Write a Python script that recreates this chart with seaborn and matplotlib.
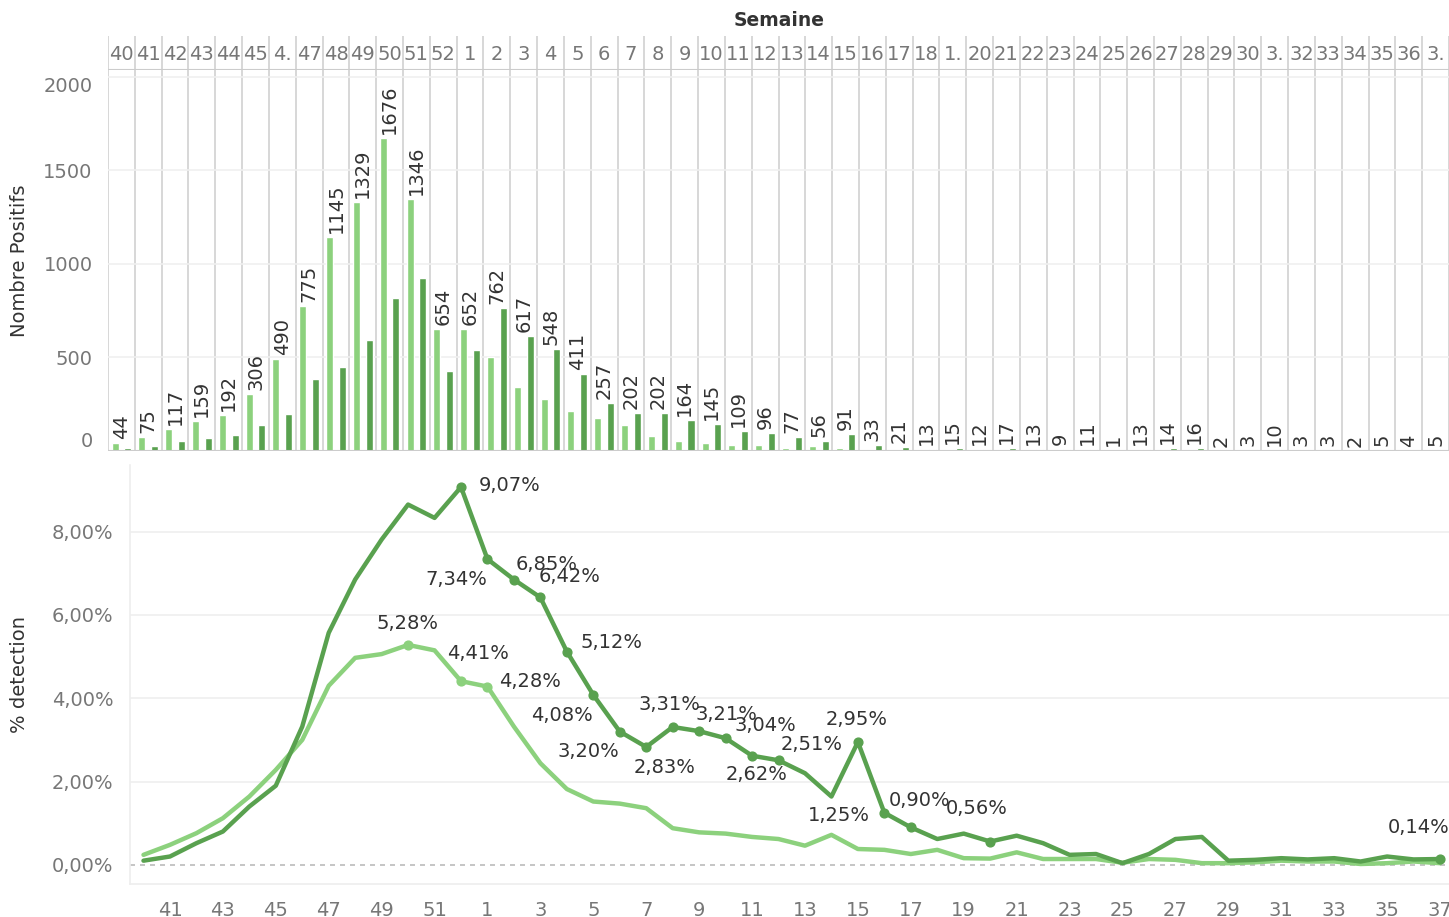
import matplotlib
matplotlib.use("Agg")
import matplotlib.pyplot as plt
import seaborn as sns
import pandas as pd
import numpy as np

sns.set_theme(style="white")
plt.rcParams["font.family"] = ["DejaVu Sans"]

LIGHT = "#8CD17D"
DARK = "#59A14F"
GREY = "#777777"
TXT = "#333333"

weeks = [40, 41, 42, 43, 44, 45, 46, 47, 48, 49, 50, 51, 52] + list(range(1, 38))
week_headers = ["40", "41", "42", "43", "44", "45", "4.", "47", "48", "49", "50", "51", "52",
                "1", "2", "3", "4", "5", "6", "7", "8", "9", "10", "11", "12", "13", "14",
                "15", "16", "17", "18", "1.", "20", "21", "22", "23", "24", "25", "26", "27",
                "28", "29", "30", "3.", "32", "33", "34", "35", "36", "3."]

# nombre de positifs (barres claires / foncees)
pos_light = [44, 75, 117, 159, 192, 306, 490, 775, 1145, 1329, 1676, 1346, 654,
             652, 503, 342, 278, 214, 178, 139, 82, 55, 44, 34, 34, 18, 28, 18,
             4, 3, 3, 1, 3, 3, 3, 3, 3, 3, 3, 3, 1, 2, 3, 3, 3, 3, 1, 1, 2, 1]
pos_dark = [18, 28, 55, 71, 86, 139, 198, 385, 449, 594, 818, 925, 428,
            540, 762, 617, 548, 411, 257, 202, 202, 164, 145, 109, 96, 77, 56, 91,
            33, 21, 13, 15, 12, 17, 13, 9, 11, 1, 13, 14, 16, 1, 1, 1, 1, 1, 1, 5, 1, 5]
bar_labels = ["44", "75", "117", "159", "192", "306", "490", "775", "1145", "1329", "1676", "1346", "654",
              "652", "762", "617", "548", "411", "257", "202", "202", "164", "145", "109", "96", "77",
              "56", "91", "33", "21", "13", "15", "12", "17", "13", "9", "11", "1", "13", "14", "16",
              "2", "3", "10", "3", "3", "2", "5", "4", "5"]

# % detection
pct_light = [0.24, 0.48, 0.76, 1.12, 1.64, 2.28, 3.00, 4.30, 4.97, 5.06, 5.28, 5.15, 4.41,
             4.28, 3.32, 2.44, 1.82, 1.52, 1.47, 1.36, 0.88, 0.78, 0.75, 0.67, 0.62, 0.46,
             0.72, 0.38, 0.36, 0.26, 0.36, 0.16, 0.15, 0.30, 0.14, 0.14, 0.14, 0.05, 0.14,
             0.12, 0.04, 0.04, 0.06, 0.10, 0.08, 0.08, 0.02, 0.04, 0.08, 0.04]
pct_dark = [0.10, 0.20, 0.52, 0.80, 1.40, 1.90, 3.32, 5.57, 6.85, 7.81, 8.65, 8.33, 9.07,
            7.34, 6.85, 6.42, 5.12, 4.08, 3.20, 2.83, 3.31, 3.21, 3.04, 2.62, 2.51, 2.20,
            1.64, 2.95, 1.25, 0.90, 0.62, 0.75, 0.56, 0.70, 0.52, 0.24, 0.26, 0.04, 0.26,
            0.62, 0.67, 0.10, 0.12, 0.16, 0.13, 0.16, 0.08, 0.20, 0.13, 0.14]

# points etiquetes : semaine + decalage en pixels du texte
dark_marked = [52, 1, 2, 3, 4, 5, 6, 7, 8, 9, 10, 11, 12, 15, 16, 17, 20, 37]
dark_offsets = [(49, 2), (-31, -20), (33, 15), (29, 21), (45, 9), (-31, -21), (-31, -20),
                (18, -21), (-3, 22), (27, 17), (40, 13), (5, -19), (33, 16), (-1, 22),
                (-45, -3), (9, 27), (-14, 33), (-21, 32)]
light_marked = [50, 52, 1]
light_offsets = [(-1, 21), (17, 28), (43, 5)]

idx = list(range(len(weeks)))
bars = pd.DataFrame({
    "idx": idx * 2,
    "serie": ["a"] * len(weeks) + ["b"] * len(weeks),
    "positifs": pos_light + pos_dark,
})
lines = pd.DataFrame({
    "idx": idx * 2,
    "serie": ["a"] * len(weeks) + ["b"] * len(weeks),
    "pct": pct_light + pct_dark,
})
pal = {"a": LIGHT, "b": DARK}

W, H = 1449, 917
fig = plt.figure(figsize=(W / 100, H / 100), dpi=100)


def box(x0, y0, x1, y1):
    return [x0 / W, 1 - y1 / H, (x1 - x0) / W, (y1 - y0) / H]


ax_h = fig.add_axes(box(108, 36, 1449, 70))
ax1 = fig.add_axes(box(108, 70, 1449, 451))
ax2 = fig.add_axes(box(130, 465, 1449, 884))

# ---- en-tete des semaines
ax_h.set_xlim(-0.5, len(weeks) - 0.5)
ax_h.set_ylim(0, 1)
ax_h.axis("off")
for i, lab in enumerate(week_headers):
    ax_h.text(i, 0.45, lab, ha="center", va="center", fontsize=14, color=GREY)
for b in np.arange(-0.5, len(weeks), 1.0):
    ax_h.axvline(b, color="#d4d4d4", lw=1.3)
ax_h.axhline(0, color="#cccccc", lw=1.5)
fig.text(779 / W, 1 - 20 / H, "Semaine", ha="center", va="center", fontsize=13.5,
         color=TXT, fontweight="semibold")

# ---- barres
sns.barplot(data=bars, x="idx", y="positifs", hue="serie", palette=pal, ax=ax1,
            width=0.95, gap=0.45, legend=False, saturation=1)
ax1.set_xlim(-0.5, len(weeks) - 0.5)
ax1.set_ylim(0, 2037)
for b in np.arange(-0.5, len(weeks), 1.0):
    ax1.axvline(b, color="#d4d4d4", lw=1.3, zorder=0)
for v in [500, 1000, 1500, 2000]:
    ax1.axhline(v, color="#f0f0f0", lw=1.2, zorder=0)
ax1.axhline(0, color="#cccccc", lw=1.5)
for i, lab in enumerate(bar_labels):
    top = max(pos_light[i], pos_dark[i])
    ax1.annotate(lab, (i, top), xytext=(0, 4), textcoords="offset pixels",
                 rotation=90, ha="center", va="bottom", fontsize=14, color=TXT)
ax1.set_xticks([])
ax1.set_xlabel("")
ax1.set_yticks([0, 500, 1000, 1500, 2000])
ax1.set_yticklabels(["0", "500", "1000", "1500", "2000"])
ax1.get_yticklabels()[0].set_va("bottom")
ax1.get_yticklabels()[-1].set_va("top")
ax1.tick_params(axis="y", length=0, pad=11, labelsize=14, labelcolor=GREY)
ax1.set_ylabel("Nombre Positifs", fontsize=14, color=TXT, va="center")
sns.despine(ax=ax1, left=True, bottom=True, top=True, right=True)

# ---- courbes
sns.lineplot(data=lines, x="idx", y="pct", hue="serie", palette=pal, ax=ax2,
             linewidth=3.2, legend=False)
ax2.set_xlim(-0.51, 49.34)
ax2.set_ylim(-0.46, 9.6)
ax2.axhline(0, color="#bbbbbb", lw=1.2, ls=(0, (3, 3)), zorder=0)
for v in [2, 4, 6, 8]:
    ax2.axhline(v, color="#f0f0f0", lw=1.3, zorder=0)

for marked, offs, vals, col in [(dark_marked, dark_offsets, pct_dark, DARK),
                                (light_marked, light_offsets, pct_light, LIGHT)]:
    xs = [weeks.index(w) for w in marked]
    ys = [vals[x] for x in xs]
    ax2.scatter(xs, ys, s=40, color=col, zorder=5)
    for x, y, (dx, dy) in zip(xs, ys, offs):
        ax2.annotate(f"{y:.2f}%".replace(".", ","), (x, y), xytext=(dx, dy),
                     textcoords="offset pixels", ha="center", va="center",
                     fontsize=14, color=TXT)

ax2.set_xticks(idx[1::2])
ax2.set_xticklabels([str(w) for w in weeks[1::2]])
ax2.set_xticks(np.arange(0.5, len(weeks) - 1, 1.0), minor=True)
ax2.tick_params(axis="x", which="major", length=0, pad=12, labelsize=14, labelcolor=GREY)
ax2.tick_params(axis="x", which="minor", length=4, color="#dddddd")
ax2.set_yticks([0, 2, 4, 6, 8])
ax2.set_yticklabels(["0,00%", "2,00%", "4,00%", "6,00%", "8,00%"])
ax2.tick_params(axis="y", length=0, pad=12, labelsize=14, labelcolor=GREY)
ax2.set_xlabel("")
ax2.set_ylabel("% detection", fontsize=14, color=TXT, va="center")
ax2.yaxis.set_label_coords(-(130 - 20) / (1449 - 130), 0.5)
ax1.yaxis.set_label_coords(-(108 - 20) / (1449 - 108), 0.5)
sns.despine(ax=ax2, top=True, right=True)
for s in ["left", "bottom"]:
    ax2.spines[s].set_color("#eeeeee")
    ax2.spines[s].set_linewidth(1.2)

fig.savefig("out.png", dpi=100)
